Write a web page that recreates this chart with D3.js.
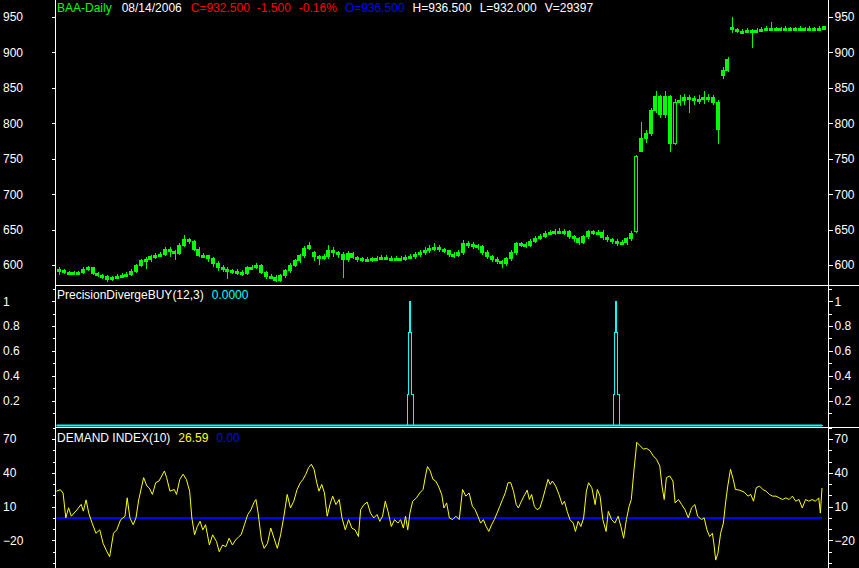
<!DOCTYPE html>
<html><head><meta charset="utf-8">
<script src="https://cdn.jsdelivr.net/npm/d3@7/dist/d3.min.js"></script>
<style>html,body{margin:0;padding:0;background:#000;}svg{display:block;}</style>
</head><body>
<script>
// ---------- DATA ----------
const priceTicks = [600,650,700,750,800,850,900,950];
const pdTicks = [0.2,0.4,0.6,0.8,1];
const diTicks = [-20,10,40,70];

const opens = [594,592,590,589,590,589,594,596,588,586,
584,580,583,584,586,587,591,599,606,608,
612,614,615,622,619,617,628,636,634,622,
614,613,609,603,597,594,593,591,590,588,
596,597,600,590,584,583,579,585,592,600,
606,613,624,618,612,610,612,620,618,615,
608,617,611,609,607,608,609,610,611,610,
609,610,609,611,612,615,618,621,624,625,
622,620,615,614,618,630,629,628,626,618,
612,608,605,602,609,618,630,629,628,634,
638,641,645,646,647,648,647,640,637,632,
640,647,646,646,639,636,634,631,632,637,
648,760,778,786,818,838,812,838,772,829,
832,836,835,833,834,837,836,830,868,875,
935,932,930,930,931,929,931,933,934,934,
933,934,934,934,933,934,933,934,933,936.5];
const closes = [592,590,589,590,589,594,596,588,586,584,
580,583,584,586,587,591,599,606,608,612,
614,615,622,619,617,628,636,634,622,614,
613,609,603,597,594,593,591,590,588,596,
597,600,590,584,583,579,585,592,600,606,
613,624,628,612,610,612,620,618,615,608,
617,611,609,607,608,609,610,611,610,609,
610,609,611,612,615,618,621,624,625,622,
620,615,614,618,630,629,628,626,618,612,
608,605,602,609,618,630,629,628,634,638,
641,645,646,647,648,647,640,637,632,640,
647,646,646,639,636,634,631,632,637,645,
753,778,786,818,838,812,838,772,829,832,
836,835,833,834,837,836,830,792,875,890,
932,930,930,931,929,931,933,934,934,933,
934,934,934,933,934,933,934,933,934,932.5];
const highs = [597,594,592,592,592,597,599,598,590,588,
586,585,587,589,590,594,602,609,611,615,
617,618,626,625,622,631,642,639,636,625,
617,615,611,606,600,597,595,594,593,599,
600,603,602,592,587,586,588,595,603,609,
616,627,632,620,615,616,629,625,620,618,
620,619,613,611,611,612,613,614,614,613,
613,613,614,616,618,621,625,628,631,628,
624,622,618,621,636,634,632,630,628,621,
614,611,607,612,622,633,633,632,637,641,
644,648,650,651,652,651,650,643,640,643,
650,650,650,649,642,639,637,635,640,648,
756,802,790,822,845,840,845,840,835,840,
842,840,838,840,846,842,840,833,880,893,
950,934,933,934,933,934,936,937,943,936,
936,937,936,936,937,936,937,936,938,936.5];
const lows = [586,588,587,587,587,588,592,586,583,581,
576,578,580,582,584,585,589,597,594,604,
609,611,613,612,607,615,626,630,620,611,
610,605,598,592,590,580,588,586,585,586,
593,594,587,581,580,576,576,582,589,597,
603,610,621,606,600,607,609,612,610,582,
605,608,605,604,604,605,606,607,607,606,
606,606,606,608,609,612,615,617,620,618,
617,611,610,611,615,624,623,621,615,609,
605,601,596,599,606,615,625,624,625,631,
635,638,642,643,644,643,637,633,628,630,
637,643,642,636,632,630,627,628,629,634,
645,765,772,782,814,808,808,760,770,825,
826,815,826,828,828,830,826,771,862,872,
928,927,926,928,906,927,930,931,931,930,
931,931,932,930,931,931,931,930,931,932];

// PrecisionDivergeBUY (sample index, value) - step line
const pdT = [0,639,641,643,645,647,650,1016,1018,1020,1021,1023,1026,1397];
const pdV = [0,0.25,0.75,1,0.75,0.25,0,0.25,0.75,1,0.75,0.25,0,0];

// DEMAND INDEX (sample index, value)
const diT = [0,7,12,17,22,27,37,45,49,54,59,65,72,79,85,92,97,104,110,117,125,129,134,140,145,150,159,165,169,175,181,187,192,197,201,207,215,219,225,231,237,243,247,252,257,262,267,272,279,285,292,297,303,309,315,321,327,333,337,343,349,355,360,364,368,374,379,385,391,397,403,409,415,421,427,433,439,445,450,455,460,465,470,475,479,484,489,494,499,504,510,516,521,527,533,539,545,551,555,561,567,573,579,585,590,595,600,605,611,617,623,628,633,637,641,645,650,657,663,669,674,677,682,687,692,697,703,707,712,717,723,729,735,741,747,753,759,764,769,774,779,784,789,794,799,804,809,814,819,824,829,834,839,843,847,853,859,863,867,872,877,882,887,892,897,901,905,911,917,923,927,932,937,943,947,952,957,962,967,971,977,983,987,992,997,1003,1007,1013,1019,1025,1030,1035,1040,1045,1049,1054,1059,1065,1071,1077,1083,1089,1095,1101,1105,1109,1113,1119,1125,1129,1135,1141,1147,1153,1159,1165,1170,1177,1182,1187,1192,1197,1200,1203,1207,1212,1217,1221,1225,1230,1235,1239,1247,1255,1262,1267,1272,1277,1283,1289,1295,1301,1307,1313,1319,1325,1331,1337,1343,1349,1355,1361,1367,1373,1379,1385,1391,1394,1397];
const diV = [23.7,25,22,0,9,1.5,7,12,6,16,4,-4.6,-13.6,-10.6,-22.5,-30,-34.4,-13.6,-10.6,-1.6,1.4,17.8,0,-6,0,16,35.7,28.2,26.7,20.8,31.2,32.7,37.2,41.6,35.7,23.7,25.2,20.8,34.2,38.7,34.2,23.7,0,-15,-7.6,-3,-10.6,-6,-24,-15,-21,-30,-24,-25.5,-18,-24,-19.5,-16.5,-15,-6,3,7.3,13.3,16.3,4.3,-19.5,-27,-22.5,-9,-18,-27,-15,1.5,20.8,8.8,14.8,25.2,31.2,34.2,38.7,44.6,47.6,43.1,31.2,23.7,29.7,22.2,1.5,11.8,19.3,11.8,16.3,0,-10.6,-1.5,-9,-10.6,-16.5,7.3,11.8,14,4.3,0,3,-3,1.5,14.8,5.8,-7.6,-1.5,-4.6,-1.5,-9,1.5,-10.6,4.3,14.8,17.8,22.2,25.2,38.7,45.5,41.6,34.2,32.7,28.2,20.8,8.8,13.3,0,-1.5,1.5,-1.5,25.2,19.3,22.2,10.3,7.3,1.5,-4.6,-1.5,-7.6,-12,-6,-1.5,4.3,10.3,16.3,22.2,31.2,31.2,23.7,11.8,8.8,13.3,19.3,24.6,16.3,20.8,10.3,7.3,8.8,16.3,25.2,34.2,29.7,32.7,28.2,20.8,11.8,14.8,5.8,-1.5,-4.6,-12,-3,-7.6,0,23.7,31.2,26.7,11.8,25.2,19.3,-1.5,-12,5.8,-1.5,-4.6,1.5,-7.6,-18,-1.5,10.3,16.3,43.1,67,64,61,61.6,59.6,55,52,46,28.2,16.3,35.7,37.2,32.7,13.3,16.3,11.8,7.3,0,9,11.8,1.5,-1.5,0,-10.6,-16.5,-13.6,-24,-37.4,-31.5,-13.6,-4.6,13.3,28.2,43.1,34.2,25.2,24.6,22.8,19.3,20.8,14.8,26.7,28.2,25.2,23.7,20.8,19.3,19.3,17.8,16.3,17.8,16.3,19.3,14.8,16.3,8.8,16.3,14.8,16.3,14.8,17.8,4.3,26.59];

// ---------- CHART ----------
const W = 859, H = 568;
const svg = d3.select("body").append("svg").attr("width", W).attr("height", H)
  .style("background", "#000");
const FONT = "'Liberation Sans', Arial, sans-serif";
const AX_L = 55.5, AX_R = 828.5;
const GREEN = "#00ff00", CYAN = "#00ffff", YELLOW = "#ffff00", BLUE = "#0000ff";

const n = closes.length;
const xBand = d3.scaleBand().domain(d3.range(n)).range([57, 826]).paddingInner(0.1);
const tScale = d3.scaleLinear().domain([0, 1397]).range([56.5, 822]);

const yP = d3.scaleLinear().domain([572, 974]).range([285, 0]);
const yPD = d3.scaleLinear().domain([-0.012, 1.13]).range([427, 285]);
const yDI = d3.scaleLinear().domain([-44.4, 80.6]).range([568, 427]);

// axes
function styleAxis(g, side) {
  g.select(".domain").remove();
  g.selectAll("line").attr("stroke", "#fff").attr("shape-rendering", "crispEdges");
  g.selectAll("text").attr("fill", "#fff").style("font-family", FONT).style("font-size", "12px");
  if (side === "left") g.selectAll("text").attr("text-anchor", "start").attr("x", -AX_L + 3);
}
function addAxes(scale, ticks, fmt, minor) {
  if (minor) {
    svg.append("g").attr("transform", `translate(${AX_L},0)`)
      .call(d3.axisLeft(scale).tickValues(minor).tickSize(3).tickFormat(""))
      .call(g => styleAxis(g));
    svg.append("g").attr("transform", `translate(${AX_R},0)`)
      .call(d3.axisRight(scale).tickValues(minor).tickSize(3).tickFormat(""))
      .call(g => styleAxis(g));
  }
  svg.append("g").attr("transform", `translate(${AX_L},0)`)
    .call(d3.axisLeft(scale).tickValues(ticks).tickSize(4).tickFormat(fmt))
    .call(g => styleAxis(g, "left"));
  svg.append("g").attr("transform", `translate(${AX_R},0)`)
    .call(d3.axisRight(scale).tickValues(ticks).tickSize(4).tickPadding(2).tickFormat(fmt))
    .call(g => styleAxis(g, "right"));
}
addAxes(yP, priceTicks, d3.format("d"));
addAxes(yPD, pdTicks, d => d === 1 ? "1" : d3.format(".1f")(d), d3.range(1, 12).map(v => v / 10));
addAxes(yDI, diTicks, d3.format("d"), d3.range(-40, 81, 10));

// frame lines
svg.append("line").attr("x1", AX_L).attr("x2", AX_L).attr("y1", 0).attr("y2", H).attr("stroke", "#fff");
svg.append("line").attr("x1", AX_R).attr("x2", AX_R).attr("y1", 0).attr("y2", H).attr("stroke", "#fff");
[285.5, 427.5].forEach(y => svg.append("line").attr("x1", AX_L).attr("x2", W).attr("y1", y).attr("y2", y).attr("stroke", "#fff"));

// candles
const bars = d3.range(n).map(i => ({i, o: opens[i], c: closes[i], h: highs[i], l: lows[i]}));
const cg = svg.append("g").attr("shape-rendering", "crispEdges");
const cx = d => Math.round(xBand(d.i) + xBand.bandwidth() / 2) + 0.5;
cg.selectAll("line.w").data(bars).join("line")
  .attr("x1", cx).attr("x2", cx)
  .attr("y1", d => yP(d.h)).attr("y2", d => yP(d.l)).attr("stroke", GREEN);
cg.selectAll("rect").data(bars).join("rect")
  .attr("x", d => Math.round(xBand(d.i)) + 0.5)
  .attr("width", Math.max(1, Math.round(xBand.bandwidth()) - 1))
  .attr("y", d => yP(Math.max(d.o, d.c)))
  .attr("height", d => Math.max(2, yP(Math.min(d.o, d.c)) - yP(Math.max(d.o, d.c))))
  .attr("fill", d => (d.c >= d.o && Math.abs(d.c - d.o) > 40) ? "#000" : GREEN)
  .attr("stroke", GREEN);

// PD panel
svg.append("line").attr("x1", tScale(0)).attr("x2", tScale(1397))
  .attr("y1", yPD(0)).attr("y2", yPD(0)).attr("stroke", CYAN).attr("stroke-width", 2);
const pdPts = pdT.map((t, i) => [t, pdV[i]]);
svg.append("path").datum(pdPts)
  .attr("d", d3.line().x(d => Math.round(tScale(d[0])) + 0.5).y(d => yPD(d[1])).curve(d3.curveStepAfter))
  .attr("fill", "none").attr("stroke", CYAN).attr("stroke-width", 1).attr("shape-rendering", "crispEdges");

// DI panel
svg.append("line").attr("x1", tScale(0)).attr("x2", tScale(1397))
  .attr("y1", yDI(0)).attr("y2", yDI(0)).attr("stroke", BLUE).attr("stroke-width", 2);
const diPts = diT.map((t, i) => [t, diV[i]]);
svg.append("path").datum(diPts)
  .attr("d", d3.line().x(d => tScale(d[0])).y(d => yDI(d[1])))
  .attr("fill", "none").attr("stroke", YELLOW).attr("stroke-width", 1);

// headers
function header(items, y) {
  let x = 57;
  items.forEach(([txt, col, gap]) => {
    const t = svg.append("text").attr("x", x).attr("y", y).attr("fill", col)
      .style("font-family", FONT).style("font-size", "12px").text(txt);
    x += t.node().getComputedTextLength() + (gap || 8);
  });
}
header([["BAA-Daily", GREEN, 10], ["08/14/2006", "#fff", 9], ["C=932.500", "#ff0000", 7],
  ["-1.500", "#ff0000", 8], ["-0.16%", "#ff0000", 8], ["O=936.500", BLUE, 8],
  ["H=936.500", "#fff", 8], ["L=932.000", "#fff", 8], ["V=29397", "#fff", 8]], 12);
header([["PrecisionDivergeBUY(12,3)", "#fff", 8], ["0.0000", CYAN, 8]], 299);
header([["DEMAND INDEX(10)", "#fff", 8], ["26.59", YELLOW, 8], ["0.00", BLUE, 8]], 442);
</script>
</body></html>
